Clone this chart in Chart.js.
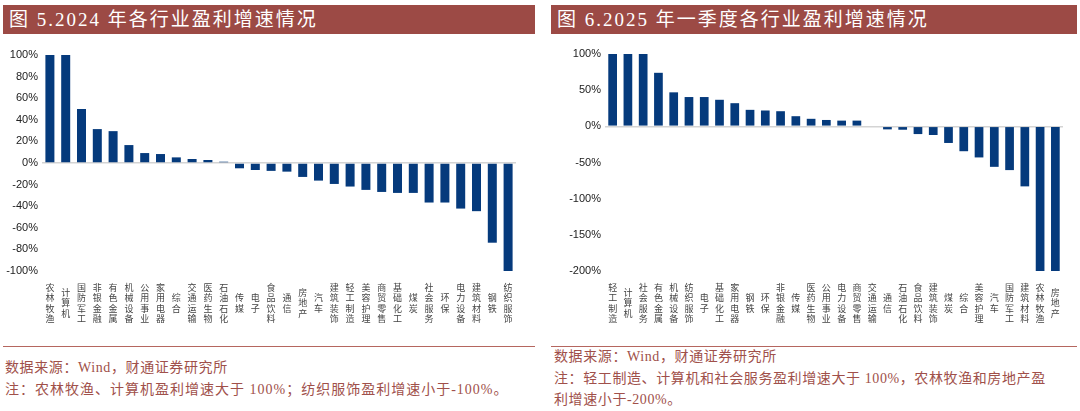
<!DOCTYPE html>
<html>
<head>
<meta charset="utf-8">
<script src="https://cdn.jsdelivr.net/npm/chart.js@4/dist/chart.umd.min.js"></script>
<style>
  body { margin: 0; width: 1080px; height: 411px; background: #fff; position: relative; overflow: hidden; }
  .head { position: absolute; top: 5px; height: 29px; background: #9c4a45; color: #fff;
          font: 19px "Liberation Serif", "Noto Sans CJK SC", serif; letter-spacing: 2px;
          line-height: 29px; padding-left: 6px; box-sizing: border-box; white-space: nowrap; }
  .rule { position: absolute; top: 346px; height: 1px; background: #b5665f; }
  .note { position: absolute; color: #a0504a; font: 14px "Liberation Serif", "Noto Sans CJK SC", serif;
          letter-spacing: 0.6px; white-space: nowrap; line-height: 16px; }
  .box { position: absolute; top: 40px; height: 305px; }
</style>
</head>
<body>
<div class="head" style="left:3px;width:532px">图 5.2024 年各行业盈利增速情况</div>
<div class="head" style="left:551px;width:526px">图 6.2025 年一季度各行业盈利增速情况</div>

<div class="box" style="left:0;width:540px"><canvas id="chart2024"></canvas></div>
<div class="box" style="left:545px;width:535px"><canvas id="chart2025"></canvas></div>

<div class="rule" style="left:3px;width:532px"></div>
<div class="rule" style="left:551px;width:526px"></div>

<div class="note" style="left:5px;top:360px">数据来源：Wind，财通证券研究所</div>
<div class="note" style="left:5px;top:382px;letter-spacing:1px">注：农林牧渔、计算机盈利增速大于 100%；纺织服饰盈利增速小于-100%。</div>
<div class="note" style="left:554px;top:349px">数据来源：Wind，财通证券研究所</div>
<div class="note" style="left:554px;top:371px">注：轻工制造、计算机和社会服务盈利增速大于 100%，农林牧渔和房地产盈</div>
<div class="note" style="left:554px;top:392px">利增速小于-200%。</div>

<script>
  // --- DATA ---
  const industries2024 = ['农林牧渔', '计算机', '国防军工', '非银金融', '有色金属', '机械设备', '公用事业', '家用电器',
    '综合', '交通运输', '医药生物', '石油石化', '传媒', '电子', '食品饮料', '通信', '房地产', '汽车', '建筑装饰',
    '轻工制造', '美容护理', '商贸零售', '基础化工', '煤炭', '社会服务', '环保', '电力设备', '建筑材料', '钢铁', '纺织服饰'];
  const growth2024 = [100, 100, 50, 31.4, 29.5, 16.6, 9.2, 8.3, 5.2, 3.7, 2.8, 1.2, -4.9, -6.5, -7.3, -8, -12.9, -16.3,
    -19.4, -21.8, -24.9, -26.8, -27.7, -27.7, -36.6, -36.6, -42.2, -44.6, -73.8, -100];
  const ticks2024 = [-100, -80, -60, -40, -20, 0, 20, 40, 60, 80, 100];

  const industries2025 = ['轻工制造', '计算机', '社会服务', '有色金属', '机械设备', '纺织服饰', '电子', '基础化工', '家用电器',
    '钢铁', '环保', '非银金融', '传媒', '医药生物', '公用事业', '电力设备', '商贸零售', '交通运输', '通信', '石油石化',
    '食品饮料', '建筑装饰', '煤炭', '综合', '美容护理', '汽车', '国防军工', '建筑材料', '农林牧渔', '房地产'];
  const growth2025 = [100, 100, 100, 74, 47, 40.5, 40.5, 36.7, 32, 22.8, 21.9, 20.9, 14, 10.4, 8.8, 7.9, 7.9, -1, -4.2,
    -4.7, -10.7, -12, -23, -34.4, -43, -56, -60.5, -83, -200, -200];
  const ticks2025 = [-200, -150, -100, -50, 0, 50, 100];

  const barColor = '#053a7c';
  const tickFont = { family: '"Liberation Sans", Arial, sans-serif', size: 11 };

  // category names written top-to-bottom, centred under each bar (like the Excel original)
  const stackedLabels = {
    id: 'stackedLabels',
    afterDraw(chart) {
      const { ctx, chartArea, scales: { x } } = chart;
      const lh = 10.5;
      const midY = chartArea.bottom + 32;
      ctx.save();
      ctx.font = '9px "Noto Sans CJK SC", sans-serif';
      ctx.fillStyle = '#444';
      ctx.textAlign = 'center';
      ctx.textBaseline = 'middle';
      chart.data.labels.forEach((label, i) => {
        const px = x.getPixelForTick(i);
        const chars = label.split('');
        const top = midY - chars.length * lh / 2;
        chars.forEach((ch, j) => ctx.fillText(ch, px, top + lh * (j + 0.5)));
      });
      ctx.restore();
    }
  };

  const makeChart = (canvas, labels, values, yTicks, pad, yWidth) => {
    const step = yTicks[1] - yTicks[0];
    return new Chart(canvas, {
      type: 'bar',
      data: {
        labels: labels,
        datasets: [{ data: values, backgroundColor: barColor, barPercentage: 0.6, categoryPercentage: 0.95 }]
      },
      options: {
        responsive: true,
        maintainAspectRatio: false,
        animation: false,
        layout: { padding: pad },
        plugins: { legend: { display: false }, tooltip: { enabled: false } },
        scales: {
          x: {
            grid: { display: false },
            border: { display: false },
            ticks: { display: false, autoSkip: false },
            afterFit: s => { s.height = 74; }
          },
          y: {
            min: yTicks[0],
            max: yTicks[yTicks.length - 1],
            border: { display: false },
            grid: { drawTicks: false, lineWidth: 1.5, color: c => (c.tick && c.tick.value === 0 ? '#d4d4d4' : 'transparent') },
            ticks: { stepSize: step, font: tickFont, color: '#222', padding: 4, callback: v => v + '%' },
            afterFit: s => { s.width = yWidth; }
          }
        }
      },
      plugins: [stackedLabels]
    });
  };

  makeChart(document.getElementById('chart2024'), industries2024, growth2024, ticks2024,
    { top: 15, right: 24, left: 0, bottom: 0 }, 42);
  makeChart(document.getElementById('chart2025'), industries2025, growth2025, ticks2025,
    { top: 14, right: 17, left: 0, bottom: 0 }, 60);
</script>
</body>
</html>
